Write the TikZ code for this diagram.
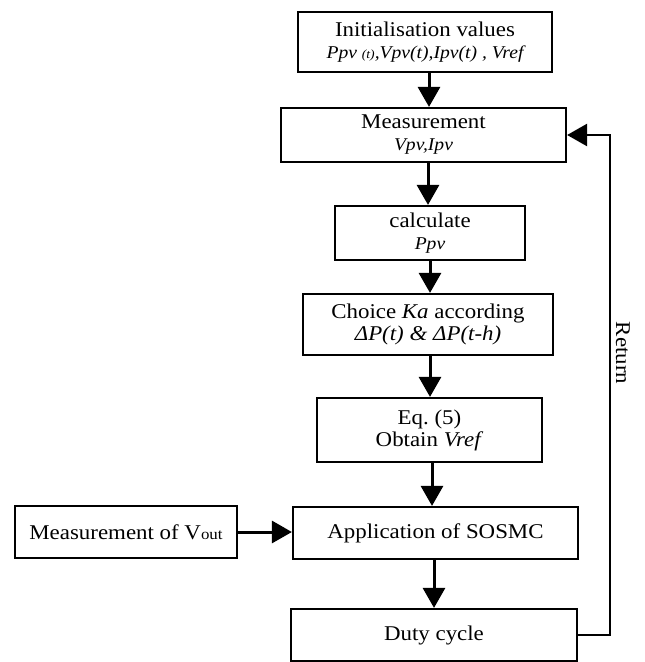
\documentclass[tikz,border=0pt]{standalone}
\usepackage{fontspec}
\setmainfont[FakeStretch=1.09]{Liberation Serif}
\usetikzlibrary{arrows.meta}
\frenchspacing
\begin{document}
\begin{tikzpicture}[x=1pt,y=-1pt,
  box/.style={draw,line width=2.2pt,inner sep=0pt,align=center,font=\fontsize{21}{22}\selectfont},
  arr/.style={line width=3pt,-{Triangle[width=22pt,length=20pt]}},
  ]
\useasboundingbox (0,0) rectangle (645,662);
\node[box,minimum width=254pt,minimum height=60pt] (b1) at (425,42)
  {Initialisation values\\ \fontsize{18}{22}\selectfont\itshape Ppv {\fontsize{12.5}{12}\selectfont (t)},Vpv(t),Ipv(t) , Vref};
\node[box,minimum width=285pt,minimum height=54pt] (b2) at (423.5,135)
  {Measurement\\ \fontsize{18}{22}\selectfont\itshape Vpv,Ipv};
\node[box,minimum width=190pt,minimum height=54pt] (b3) at (430,233)
  {calculate\\ \fontsize{18}{22}\selectfont\itshape Ppv};
\node[box,minimum width=250pt,minimum height=61pt] (b4) at (428,324.5)
  {Choice \textit{Ka} according\\ \itshape ΔP(t) \& ΔP(t-h)};
\node[box,minimum width=225pt,minimum height=64pt] (b5) at (429.5,430)
  {Eq.\ (5)\\ Obtain \textit{Vref}};
\node[box,minimum width=285pt,minimum height=52pt] (b6) at (435.5,533)
  {Application of SOSMC};
\node[box,minimum width=286pt,minimum height=52pt] (b7) at (434,635)
  {Duty cycle};
\node[box,minimum width=222pt,minimum height=52pt] (bm) at (126,532)
  {Measurement of V{\fontsize{15.5}{15}\selectfont out}};
\node[rotate=-90,font=\fontsize{21}{22}\selectfont] (ret) at (623,353) {Return};
\draw[arr] ([xshift=4pt]b1.south) -- ([xshift=4pt]b1.south |- b2.north);
\draw[arr] ([xshift=4.5pt]b2.south) -- ([xshift=4.5pt]b2.south |- b3.north);
\draw[arr] (b3.south) -- (b3.south |- b4.north);
\draw[arr] ([xshift=2pt]b4.south) -- ([xshift=2pt]b4.south |- b5.north);
\draw[arr] ([xshift=2.5pt]b5.south) -- ([xshift=2.5pt]b5.south |- b6.north);
\draw[arr] ([xshift=-1.5pt]b6.south) -- ([xshift=-1.5pt]b6.south |- b7.north);
\draw[arr] (bm.east) -- (bm.east -| b6.west);
\draw[arr,line width=2.5pt] (b7.east) -- ++(32,0) |- (b2.east);
\end{tikzpicture}
\end{document}
